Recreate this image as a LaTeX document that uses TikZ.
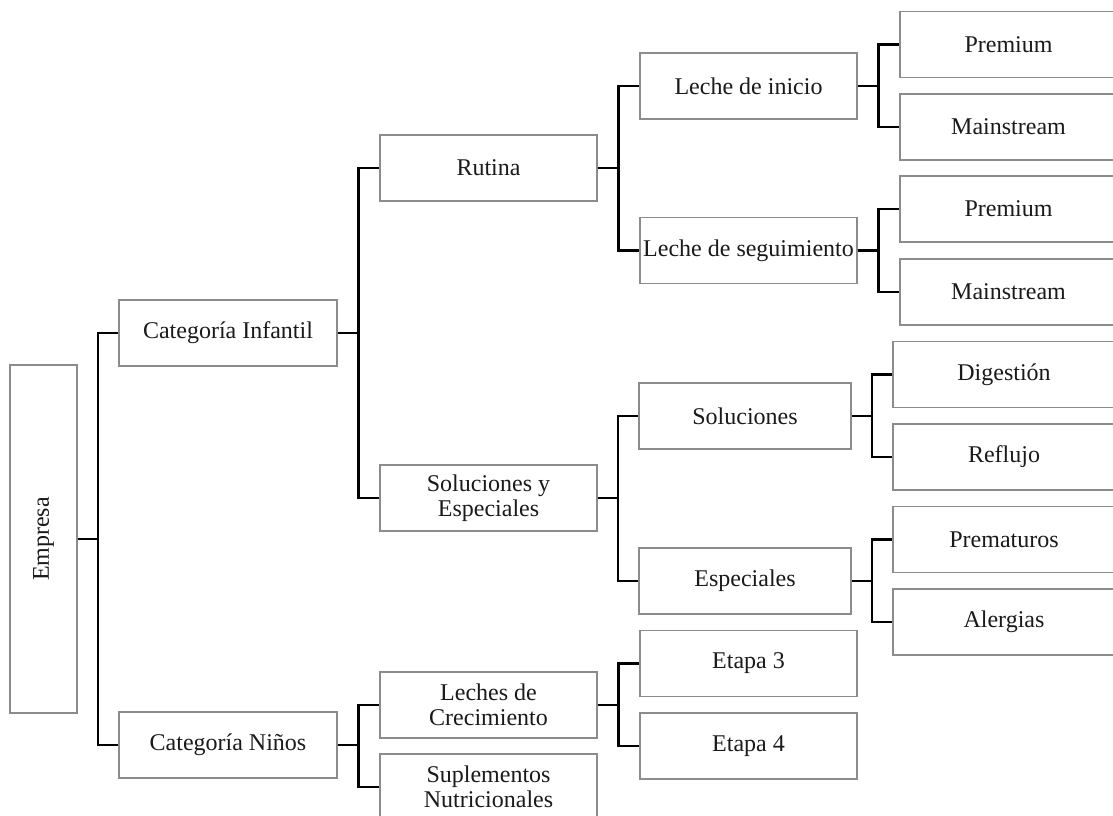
\documentclass[tikz,border=0pt]{standalone}
\usepackage{fontspec}
\setmainfont{Liberation Serif}
\usetikzlibrary{calc}
\definecolor{boxgray}{HTML}{8C8C8C}
\definecolor{textdark}{HTML}{1A1A1A}
\tikzset{
  box/.style={draw=boxgray, line width=1.3pt, fill=white,
    minimum width=217pt, minimum height=66pt, inner sep=0pt,
    align=center, text=textdark, font=\fontsize{24}{24.5}\selectfont},
  leafbox/.style={box, minimum width=222pt},
  link/.style={draw=black, line width=2.1pt},
}
% elbow connector: parent east -> half-way trunk -> child west
\newcommand\treelink[2]{\draw[link] (#1.east) -- ($(#1.east)!.5!(#1.east -| #2.west)$) |- (#2.west);}
\begin{document}
\begin{tikzpicture}[x=1pt,y=-1pt]
\useasboundingbox (0,0) rectangle (1113,816);
\clip (0,0) rectangle (1113,816);

% root
\node[box, minimum width=67pt, minimum height=348pt] (emp) at (43.5,539) {\rotatebox{90}{Empresa}};

% level 1
\node[box, minimum width=218pt] (inf) at (228,333) {Categoría Infantil};
\node[box, minimum width=218pt] (nin) at (228,745) {Categoría Niños};

% level 2
\node[box] (rut) at (488.5,168) {Rutina};
\node[box] (sye) at (488.5,498) {Soluciones y\\Especiales};
\node[box] (cre) at (488.5,705) {Leches de\\Crecimiento};
\node[box] (sup) at (488.5,787) {Suplementos\\Nutricionales};

% level 3
\node[box] (ini) at (748.5,86) {Leche de inicio};
\node[box] (seg) at (748.5,250.5) {Leche de seguimiento};
\node[box, minimum width=212pt] (sol) at (745,416) {Soluciones};
\node[box, minimum width=212pt] (esp) at (745,581) {Especiales};
\node[box] (et3) at (748.5,663.5) {Etapa 3};
\node[box] (et4) at (748.5,746) {Etapa 4};

% level 4 (running off the right edge)
\node[box] (pr1) at (1008.5,44.5) {Premium};
\node[box] (ma1) at (1008.5,127) {Mainstream};
\node[box] (pr2) at (1008.5,209) {Premium};
\node[box] (ma2) at (1008.5,292) {Mainstream};
\node[leafbox] (dig) at (1004,374.5) {Digestión};
\node[leafbox] (ref) at (1004,457) {Reflujo};
\node[leafbox] (pre) at (1004,539.5) {Prematuros};
\node[leafbox] (ale) at (1004,622) {Alergias};

% connectors
\treelink{emp}{inf}
\treelink{emp}{nin}
\treelink{inf}{rut}
\treelink{inf}{sye}
\treelink{nin}{cre}
\treelink{nin}{sup}
\treelink{rut}{ini}
\treelink{rut}{seg}
\treelink{sye}{sol}
\treelink{sye}{esp}
\treelink{cre}{et3}
\treelink{cre}{et4}
\treelink{ini}{pr1}
\treelink{ini}{ma1}
\treelink{seg}{pr2}
\treelink{seg}{ma2}
\treelink{sol}{dig}
\treelink{sol}{ref}
\treelink{esp}{pre}
\treelink{esp}{ale}
\end{tikzpicture}
\end{document}
